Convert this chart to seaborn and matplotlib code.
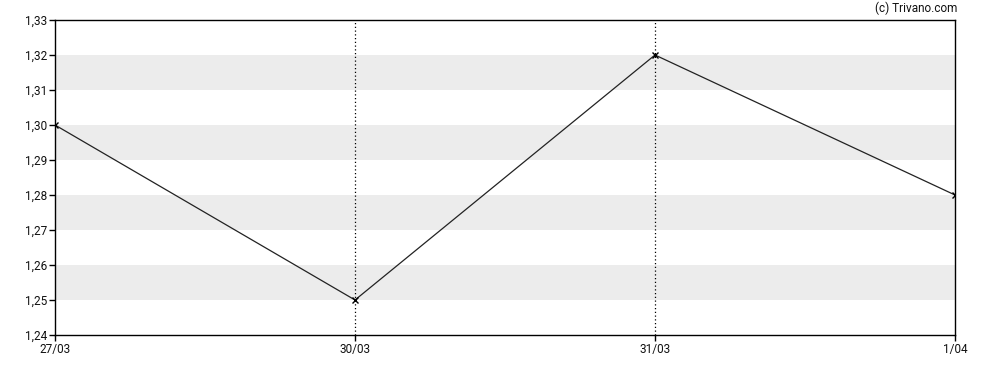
import matplotlib
matplotlib.use("Agg")
import matplotlib.pyplot as plt
import seaborn as sns
import pandas as pd
import numpy as np

dates = ["27/03", "30/03", "31/03", "1/04"]
prices = [1.30, 1.25, 1.32, 1.28]
y_ticks = [1.24, 1.25, 1.26, 1.27, 1.28, 1.29, 1.30, 1.31, 1.32, 1.33]
bands = [(1.25, 1.26), (1.27, 1.28), (1.29, 1.30), (1.31, 1.32)]
vlines_at = ["30/03", "31/03"]

sns.set_theme(style="white")
plt.rcParams['font.family'] = ['Roboto', 'DejaVu Sans']

df = pd.DataFrame({"pos": np.arange(len(dates)), "price": prices})

fig = plt.figure(figsize=(9.88, 3.70), dpi=100)
ax = fig.add_axes([55/988, 1-335/370, 900/988, 315/370])

for lo, hi in bands:
    ax.axhspan(lo, hi, color="#ececec", lw=0, zorder=0)
for d in vlines_at:
    ax.axvline(dates.index(d), color="black", ls=(0, (1, 2)), lw=0.9, zorder=1)

sns.lineplot(data=df, x="pos", y="price", ax=ax, color="#222222", lw=0.9,
             marker="x", markersize=4.5, markeredgewidth=1.0, markeredgecolor="black",
             zorder=3)

ax.set_xlim(0, len(dates)-1)
ax.set_ylim(y_ticks[0], y_ticks[-1])
ax.set_xticks(range(len(dates)))
ax.set_xticklabels(dates)
ax.set_yticks(y_ticks)
ax.set_yticklabels([f"{v:.2f}".replace(".", ",") for v in y_ticks])
ax.set_xlabel("")
ax.set_ylabel("")
for s in ax.spines.values():
    s.set_visible(True)
    s.set_color("black")
    s.set_linewidth(1.0)
ax.tick_params(axis="both", which="both", length=4, width=1, color="black",
               labelsize=8.5, labelcolor="#111111", pad=1.5,
               bottom=True, left=True)
ax.grid(False)

fig.text(957/988, 1-8/370, "(c) Trivano.com", ha="right", va="center",
         fontsize=8.5, color="#111111")

fig.savefig("out.png", dpi=100)
